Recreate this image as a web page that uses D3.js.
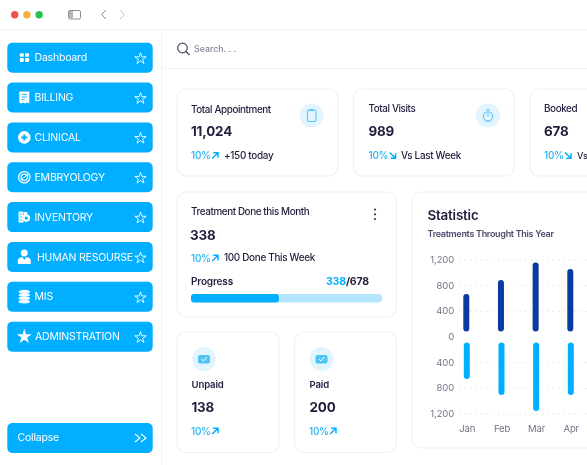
<!DOCTYPE html>
<html>
<head>
<meta charset="utf-8">
<script src="https://d3js.org/d3.v7.min.js"></script>
<style>
  html, body { margin: 0; padding: 0; background: #fff; overflow: hidden; }
  svg { display: block; font-family: Inter, "Noto Sans", sans-serif; filter: blur(0.3px); }
</style>
</head>
<body>
<div id="app"></div>
<script>
// data
var navLabels = ["Dashboard", "BILLING", "CLINICAL", "EMBRYOLOGY", "INVENTORY", "HUMAN RESOURSE", "MIS", "ADMINSTRATION"];
var months = ["Jan", "Feb", "Mar", "Apr"];
var treatmentsUp = [670, 890, 1160, 1060];
var treatmentsDown = [655, 905, 1155, 905];
var yTicks = [-1200, -800, -400, 0, 400, 800, 1200];
var topTitles = ["Total Appointment", "Total Visits", "Booked"];
var topValues = ["11,024", "989", "678"];
var topNotes = ["+150 today", "Vs Last Week", "Vs"];
var topTrend = ["up", "down", "down"];
var smallTitles = ["Unpaid", "Paid"];
var smallValues = ["138", "200"];
var progressDone = 46; // percent the bar is drawn to in the picture
var colors = { blue: "#02aeff", navy: "#0a3aa0", pale: "#e2f5fe", ink: "#1f1f3d", border: "#f0f0f4" };

var svg = d3.select("#app").append("svg").attr("width", 587).attr("height", 465);

// ---- helpers ----
function txt(parent, x, y, s, size, weight, fill, spacing) {
    return parent.append("text").attr("x", x).attr("y", y).attr("dy", "0.35em")
        .attr("font-size", size).attr("font-weight", weight).attr("fill", fill)
        .attr("letter-spacing", spacing || 0).text(s);
}
function card(x, y, w, h) {
    svg.append("rect").attr("x", x).attr("y", y).attr("width", w).attr("height", h)
        .attr("rx", 9).attr("fill", "#fff").attr("stroke", colors.border).attr("stroke-width", 1.2);
}
function arrow(x, y, dir) {
    var g = svg.append("g").attr("transform", "translate(" + x + "," + y + ")")
        .attr("fill", "none").attr("stroke", colors.blue).attr("stroke-width", 1.5);
    if (dir === "up") g.append("path").attr("d", "M-2.8,3L3,-2.8M-1.8,-2.8H3V2.2");
    else g.append("path").attr("d", "M-2.8,-3L3,2.8M-1.8,2.8H3V-2.2");
}
function trend(x, y, dir) {
    txt(svg, x, y, "10%", 10, 500, "#25b4f4", -0.25);
    arrow(x + 24, y, dir);
}
function iconBubble(x, y) {
    svg.append("circle").attr("cx", x).attr("cy", y).attr("r", 12).attr("fill", colors.pale);
}

// ---- window chrome ----
svg.append("line").attr("x1", 0).attr("x2", 587).attr("y1", 29.5).attr("y2", 29.5).attr("stroke", "#f3f3f5");
svg.append("line").attr("x1", 161.5).attr("x2", 161.5).attr("y1", 30).attr("y2", 465).attr("stroke", "#f1f1f4");
svg.append("line").attr("x1", 162).attr("x2", 587).attr("y1", 68.5).attr("y2", 68.5).attr("stroke", "#f3f3f5");
svg.selectAll(".dot").data(["#ef5350", "#f7b23b", "#27c24c"]).enter().append("circle")
    .attr("cx", function (d, i) { return 14.7 + i * 12.2; }).attr("cy", 14.7).attr("r", 3.7)
    .attr("fill", function (d) { return d; });
svg.append("rect").attr("x", 68.5).attr("y", 10.5).attr("width", 12).attr("height", 8.5).attr("rx", 1.5)
    .attr("fill", "none").attr("stroke", "#8d8d8d");
svg.append("rect").attr("x", 69).attr("y", 11).attr("width", 4).attr("height", 7.5).attr("fill", "#b5b5b5");
svg.append("path").attr("d", "M106,10L101.5,14.5L106,19").attr("fill", "none").attr("stroke", "#8a8a8a").attr("stroke-width", 1);
svg.append("path").attr("d", "M120,10L124.5,14.5L120,19").attr("fill", "none").attr("stroke", "#c4c4c4").attr("stroke-width", 1);

// ---- sidebar ----
var navTop = 42.7, navStep = 39.85, navH = 30;
var navText = [34.5, 34.5, 34.5, 34.5, 34.5, 37, 34.5, 35];
var star = d3.symbol().type(d3.symbolStar).size(40);

function navIcon(i, cx, cy) {
    var g = svg.append("g").attr("transform", "translate(" + cx + "," + cy + ")").attr("fill", "#fff");
    if (i === 0) {
        [[-4.5, -4.5, 4, 3.5], [0.8, -4.5, 4, 3.5], [-4.5, 0.2, 4, 4], [0.8, 0.2, 4, 4]].forEach(function (r) {
            g.append("rect").attr("x", r[0]).attr("y", r[1]).attr("width", r[2]).attr("height", r[3]).attr("rx", 0.8);
        });
    } else if (i === 1) {
        g.append("path").attr("d", "M-5,-6H5V6L3,5L1,6L-1,5L-3,6L-5,5Z");
        g.append("path").attr("d", "M-2.5,-3H2.5M-2.5,-0.5H2.5M-2.5,2H0.5").attr("stroke", colors.blue).attr("stroke-width", 0.9);
    } else if (i === 2) {
        g.append("circle").attr("r", 6.3);
        g.append("path").attr("d", "M-3,0H3M0,-3V3").attr("stroke", colors.blue).attr("stroke-width", 2);
    } else if (i === 3) {
        g.append("circle").attr("r", 5.7).attr("fill", "none").attr("stroke", "#fff").attr("stroke-width", 1.2);
        g.append("circle").attr("r", 3.2).attr("fill", "none").attr("stroke", "#fff").attr("stroke-width", 1.3);
        g.append("path").attr("d", "M-3.5,3L3.5,-3").attr("stroke", "#fff").attr("stroke-width", 1);
    } else if (i === 4) {
        g.append("rect").attr("x", -5.7).attr("y", -5.5).attr("width", 4.8).attr("height", 11);
        g.append("rect").attr("x", -0.5).attr("y", -5).attr("width", 3.5).attr("height", 3.5);
        g.append("circle").attr("cx", 2).attr("cy", 1).attr("r", 3.8);
        g.append("circle").attr("cx", 2).attr("cy", 1).attr("r", 1.6).attr("fill", colors.blue);
        g.append("path").attr("d", "M-4.5,-3H-2M-4.5,0H-2M-4.5,3H-2").attr("stroke", colors.blue).attr("stroke-width", 0.8);
    } else if (i === 5) {
        g.append("circle").attr("cy", -4).attr("r", 3.5);
        g.append("path").attr("d", "M-6.5,7V4Q-6.5,0.5,-2,0L0,3L2,0Q6.5,0.5,6.5,4V7Z");
    } else if (i === 6) {
        [-5, -1.7, 1.6, 4.9].forEach(function (dy) {
            g.append("ellipse").attr("cy", dy).attr("rx", 5.8).attr("ry", 2);
            g.append("path").attr("d", "M-6,0H6").attr("transform", "translate(0," + (dy + 1.6) + ")").attr("stroke", colors.blue).attr("stroke-width", 0.5);
        });
    } else {
        g.append("path").attr("d", d3.symbol().type(d3.symbolStar).size(70)());
    }
}

navLabels.forEach(function (label, i) {
    var top = navTop + i * navStep;
    svg.append("rect").attr("x", 7.3).attr("y", top).attr("width", 145.4).attr("height", navH)
        .attr("rx", 5).attr("fill", colors.blue);
    navIcon(i, 24.3, top + 15);
    txt(svg, navText[i], top + 15, label, 10.5, 400, "#fff", -0.2);
    svg.append("path").attr("d", star).attr("transform", "translate(140.5," + (top + 16) + ")")
        .attr("fill", "none").attr("stroke", "#fff").attr("stroke-width", 0.9).attr("stroke-linejoin", "round");
});
svg.append("rect").attr("x", 7.3).attr("y", 423).attr("width", 145.4).attr("height", 30).attr("rx", 5).attr("fill", colors.blue);
txt(svg, 17.5, 437.5, "Collapse", 10.5, 400, "#fff", -0.2);
svg.append("path").attr("d", "M135,434L140,438L135,442M141,434L146,438L141,442")
    .attr("fill", "none").attr("stroke", "#fff").attr("stroke-width", 1.1);

// ---- search ----
svg.append("circle").attr("cx", 182.5).attr("cy", 48).attr("r", 4.8).attr("fill", "none").attr("stroke", "#4a4a68").attr("stroke-width", 1.2);
svg.append("path").attr("d", "M186,51.5L189.5,55").attr("stroke", "#4a4a68").attr("stroke-width", 1.3);
txt(svg, 194, 49, "Search. . .", 8.8, 500, "#84849a");

// ---- top cards ----
var topX = [177, 353.5, 530];
var topTextX = [191, 368.5, 544];
var topNoteX = [224, 401, 577];
var topIconX = [311.5, 488, 664];
topTitles.forEach(function (t, i) {
    card(topX[i], 89, 161, 87);
    txt(svg, topTextX[i], i === 0 ? 109.5 : 109, t, 9.9, 500, colors.ink, -0.4);
    txt(svg, topTextX[i], 131, topValues[i], 13.4, 700, colors.ink, -0.15);
    trend(topTextX[i], 155.5, topTrend[i]);
    txt(svg, topNoteX[i], 155.5, topNotes[i], i === 2 ? 9 : 9.9, 500, colors.ink, i === 2 ? 0 : -0.3);
    iconBubble(topIconX[i], 115.5);
});
svg.append("rect").attr("x", 307.5).attr("y", 110).attr("width", 8.5).attr("height", 11.5).attr("rx", 1.5)
    .attr("fill", "none").attr("stroke", "#5cc6f5").attr("stroke-width", 1.1);
svg.append("rect").attr("x", 309.5).attr("y", 109).attr("width", 4.5).attr("height", 2).attr("fill", "#5cc6f5");
svg.append("circle").attr("cx", 488).attr("cy", 116.5).attr("r", 4.6).attr("fill", "none").attr("stroke", "#5cc6f5").attr("stroke-width", 1.1);
svg.append("path").attr("d", "M486,110H490M488,113.5V116.5").attr("stroke", "#5cc6f5").attr("stroke-width", 1.1);

// ---- treatment card ----
card(177, 192, 219.5, 125);
txt(svg, 191, 212, "Treatment Done this Month", 9.9, 500, colors.ink, -0.4);
svg.selectAll(".menu-dot").data([0, 1, 2]).enter().append("circle")
    .attr("cx", 375).attr("cy", function (d) { return 209.5 + d * 4.8; }).attr("r", 1.1).attr("fill", "#3a3a55");
txt(svg, 190, 235, "338", 13.4, 700, colors.ink, -0.15);
trend(191, 258, "up");
txt(svg, 224, 258, "100 Done This Week", 9.9, 500, colors.ink, -0.3);
txt(svg, 191, 281, "Progress", 10, 600, colors.ink, -0.15);
var ratio = txt(svg, 369, 281, "", 10.5, 700, colors.ink, -0.15).attr("text-anchor", "end");
ratio.append("tspan").attr("fill", colors.blue).text("338");
ratio.append("tspan").text("/678");

var progressX = d3.scaleLinear().domain([0, 100]).range([191, 382]);
svg.append("rect").attr("x", progressX(0)).attr("y", 294).attr("width", progressX(100) - progressX(0)).attr("height", 8.5)
    .attr("rx", 4).attr("fill", "#b4e7fd");
svg.append("rect").attr("x", progressX(0)).attr("y", 294).attr("width", progressX(progressDone) - progressX(0)).attr("height", 8.5)
    .attr("rx", 3).attr("fill", colors.blue);

// ---- small cards ----
var smallX = [177, 294.5];
var smallTextX = [191.5, 309.5];
smallTitles.forEach(function (t, i) {
    card(smallX[i], 332, 102, 120.5);
    iconBubble(smallX[i] + 27, 359);
    svg.append("rect").attr("x", smallX[i] + 21).attr("y", 355).attr("width", 12).attr("height", 8.5).attr("rx", 2)
        .attr("fill", "#4fc4f7");
    svg.append("path").attr("d", "M" + (smallX[i] + 24.5) + ",359L" + (smallX[i] + 26.5) + ",361L" + (smallX[i] + 30) + ",357")
        .attr("fill", "none").attr("stroke", "#fff").attr("stroke-width", 1);
    txt(svg, smallTextX[i], 385, t, 9.6, 600, colors.ink, -0.15);
    txt(svg, smallTextX[i], 407, smallValues[i], 13.4, 700, colors.ink, -0.15);
    trend(smallTextX[i] - 0.5, 431, "up");
});

// ---- statistic card ----
card(412, 192, 200, 256);
txt(svg, 427.5, 215, "Statistic", 13.4, 600, colors.ink, -0.2);
txt(svg, 427.5, 234, "Treatments Throught This Year", 9, 600, "#4a4a6c", -0.3);

var x = d3.scalePoint().domain(months).range([466.3, 570.3]);
var y = d3.scaleLinear().domain([-1200, 1200]).range([414, 260]);
var barW = 6, barGap = 5.5;

svg.append("g").selectAll("line").data(yTicks.filter(function (d) { return d !== 0; })).enter().append("line")
    .attr("x1", 459).attr("x2", 587)
    .attr("y1", function (d) { return y(d); }).attr("y2", function (d) { return y(d); })
    .attr("stroke", "#e4e4ec").attr("stroke-width", 1).attr("stroke-dasharray", "1.5 4");

var yAxis = svg.append("g").attr("transform", "translate(454,-0.4)")
    .call(d3.axisLeft(y).tickValues(yTicks).tickSize(0).tickPadding(0)
        .tickFormat(function (d) { return d3.format(",")(Math.abs(d)); }));
var xAxis = svg.append("g").attr("transform", "translate(0.5,425.5)")
    .call(d3.axisBottom(x).tickSize(0).tickPadding(0));
[yAxis, xAxis].forEach(function (a) {
    a.select(".domain").remove();
    a.selectAll("text").attr("font-family", "Inter, sans-serif").attr("font-size", 9.5).attr("letter-spacing", -0.15).attr("fill", "#72728a");
});

svg.append("g").selectAll("rect").data(treatmentsUp).enter().append("rect")
    .attr("x", function (d, i) { return x(months[i]) - barW / 2; })
    .attr("y", function (d) { return y(d); })
    .attr("width", barW).attr("rx", 3)
    .attr("height", function (d) { return y(0) - barGap - y(d); })
    .attr("fill", colors.navy);
svg.append("g").selectAll("rect").data(treatmentsDown).enter().append("rect")
    .attr("x", function (d, i) { return x(months[i]) - barW / 2 + 0.5; })
    .attr("y", y(0) + barGap)
    .attr("width", barW).attr("rx", 3)
    .attr("height", function (d) { return y(-d) - y(0) - barGap; })
    .attr("fill", colors.blue);
</script>
</body>
</html>
